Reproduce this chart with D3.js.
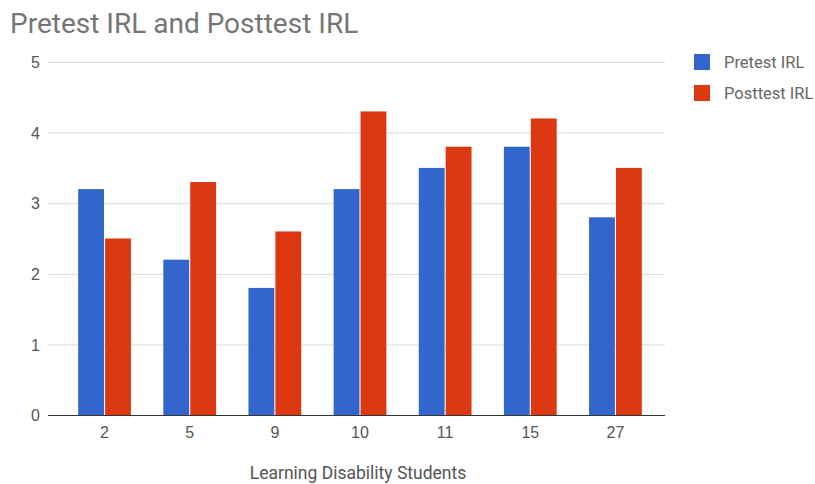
<!DOCTYPE html>
<meta charset="utf-8">
<script src="https://d3js.org/d3.v7.min.js"></script>
<style>
body { margin: 0; background: #fff; font-family: Roboto, "Noto Sans", sans-serif; }
.grid line { stroke: #d9d9d9; stroke-width: 1; }
.tick text { fill: #555; font-size: 16px; }
</style>
<body>
<div id="chart"></div>
<script>

// data
var students = ["2", "5", "9", "10", "11", "15", "27"];
var pretest  = [3.2, 2.2, 1.8, 3.2, 3.5, 3.8, 2.8];
var posttest = [2.5, 3.3, 2.6, 4.3, 3.8, 4.2, 3.5];
var seriesNames = ["Pretest IRL", "Posttest IRL"];
var yTicks = [0, 1, 2, 3, 4, 5];

var colors = ["#3366cc", "#dc3912"];
var W = 815, H = 484;

var svg = d3.select("#chart").append("svg")
    .attr("width", W)
    .attr("height", H);

// scales
var x = d3.scaleBand()
    .domain(students)
    .range([62, 658])
    .paddingInner(0.38)
    .paddingOuter(0.19);

var x1 = d3.scaleBand()
    .domain(seriesNames)
    .range([0, x.bandwidth()])
    .paddingInner(0.04);

var y = d3.scaleLinear()
    .domain([0, 5])
    .range([415, 62]);

// gridlines
svg.append("g")
    .attr("class", "grid")
    .selectAll("line")
    .data(yTicks.slice(1))
  .enter().append("line")
    .attr("x1", 48)
    .attr("x2", 665)
    .attr("y1", function(d) { return y(d) + 0.5; })
    .attr("y2", function(d) { return y(d) + 0.5; });

// y axis labels
svg.append("g")
    .attr("transform", "translate(40,0)")
    .call(d3.axisLeft(y).tickValues(yTicks).tickSize(0).tickPadding(0).tickFormat(d3.format("d")))
    .call(function(g) { g.select(".domain").remove(); })
    .selectAll("text")
    .attr("text-anchor", "end")
    .attr("dy", "0.35em");

// bars
var rows = students.map(function(s, i) { return {student: s, vals: [pretest[i], posttest[i]]}; });

var groups = svg.selectAll(".group")
    .data(rows)
  .enter().append("g")
    .attr("class", "group")
    .attr("transform", function(d) { return "translate(" + x(d.student) + ",0)"; });

groups.selectAll("rect")
    .data(function(d) { return d.vals.map(function(v, j) { return {name: seriesNames[j], value: v, idx: j}; }); })
  .enter().append("rect")
    .attr("x", function(d) { return x1(d.name); })
    .attr("width", x1.bandwidth())
    .attr("y", function(d) { return y(d.value); })
    .attr("height", function(d) { return y(0) - y(d.value); })
    .attr("fill", function(d) { return colors[d.idx]; });

// baseline
svg.append("line")
    .attr("x1", 48)
    .attr("x2", 665)
    .attr("y1", y(0) + 0.5)
    .attr("y2", y(0) + 0.5)
    .attr("stroke", "#333")
    .attr("stroke-width", 1);

// x axis labels
svg.append("g")
    .attr("transform", "translate(0," + (y(0) + 9) + ")")
    .call(d3.axisBottom(x).tickSize(0).tickPadding(0))
    .call(function(g) { g.select(".domain").remove(); })
    .selectAll("text")
    .attr("dy", "0.9em");

// title
svg.append("text")
    .attr("x", 10)
    .attr("y", 33)
    .attr("fill", "#757575")
    .style("font-size", "28px")
    .text("Pretest IRL and Posttest IRL");

// x axis title
svg.append("text")
    .attr("x", 358)
    .attr("y", 479)
    .attr("text-anchor", "middle")
    .attr("fill", "#555")
    .style("font-size", "17.5px")
    .text("Learning Disability Students");

// legend
var legend = svg.selectAll(".legend")
    .data(seriesNames)
  .enter().append("g")
    .attr("class", "legend")
    .attr("transform", function(d, i) { return "translate(694," + (54 + i * 31) + ")"; });

legend.append("rect")
    .attr("width", 16)
    .attr("height", 16)
    .attr("fill", function(d, i) { return colors[i]; });

legend.append("text")
    .attr("x", 30)
    .attr("y", 8)
    .attr("dy", "0.35em")
    .attr("fill", "#666")
    .style("font-size", "16.5px")
    .text(function(d) { return d; });

</script>
</body>
